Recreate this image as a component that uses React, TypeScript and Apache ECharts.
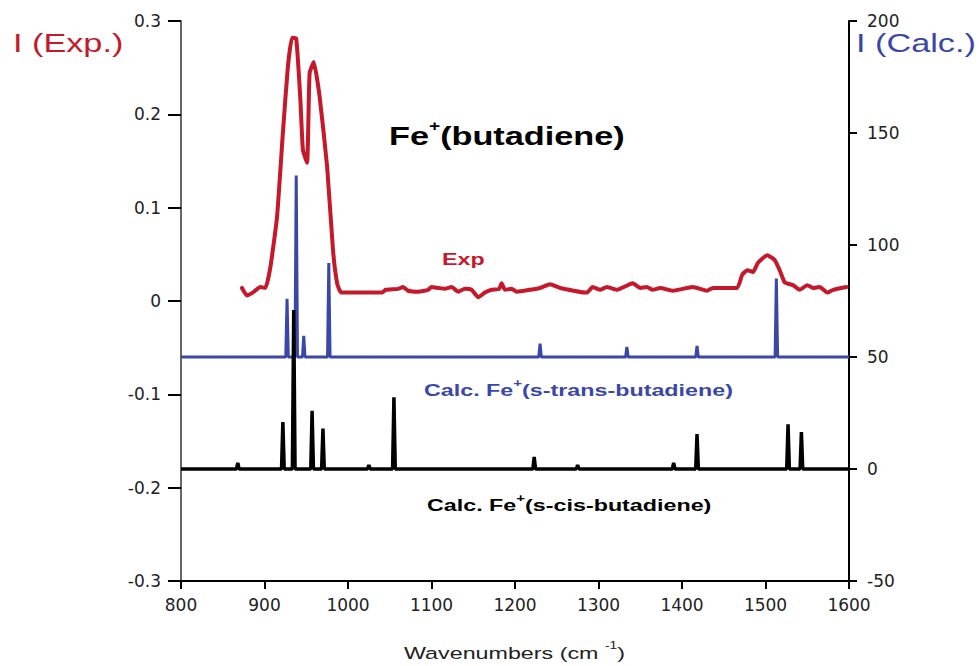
import React, { useEffect, useRef } from 'react';
import * as echarts from 'echarts';

// Experimental IR spectrum (left axis)
const expWavenumbers = [
  873, 879, 886, 895, 901, 907, 915, 922, 928, 933, 938, 943, 946, 951, 954, 959, 966, 975, 982, 987, 992,
  1041, 1045, 1060, 1066, 1072, 1084, 1096, 1100, 1108, 1116, 1124, 1132, 1140, 1148, 1156, 1164, 1172, 1181,
  1184, 1188, 1196, 1202, 1230, 1242, 1254, 1286, 1293, 1302, 1310, 1322, 1341, 1350, 1358, 1365, 1374, 1389,
  1413, 1430, 1437, 1466, 1472, 1478, 1485, 1491, 1502, 1511, 1517, 1523, 1533, 1541, 1550, 1557, 1565, 1574,
  1581, 1597,
];
const expIntensities = [
  0.014, 0.006, 0.009, 0.015, 0.014, 0.036, 0.09, 0.18, 0.251, 0.282, 0.281, 0.215, 0.162, 0.148, 0.244, 0.256,
  0.219, 0.144, 0.055, 0.019, 0.009,
  0.009, 0.012, 0.013, 0.015, 0.011, 0.01, 0.012, 0.015, 0.014, 0.013, 0.015, 0.01, 0.013, 0.012, 0.004, 0.009,
  0.012, 0.013, 0.019, 0.012, 0.013, 0.01, 0.014, 0.018, 0.014, 0.009, 0.015, 0.012, 0.015, 0.012, 0.019, 0.014,
  0.015, 0.012, 0.014, 0.011, 0.015, 0.011, 0.014, 0.014, 0.028, 0.033, 0.031, 0.041, 0.049, 0.044, 0.033, 0.02,
  0.017, 0.012, 0.017, 0.014, 0.015, 0.009, 0.012, 0.015,
];

// Calculated s-trans spectrum (right axis, drawn with an offset of 50)
const transPositions = [927, 938, 947, 977, 1230, 1334, 1418, 1513];
const transIntensities = [26, 81, 9.5, 42, 6, 4.5, 5, 35];
const transOffset = 50;

// Calculated s-cis spectrum (right axis, no offset)
const cisPositions = [868, 922, 935, 957, 970, 1025, 1055, 1223, 1275, 1390, 1418, 1527, 1543];
const cisIntensities = [2.7, 21, 71, 26, 18, 1.8, 32, 5.4, 1.8, 2.7, 15.6, 20, 16.5];
const cisOffset = 0;

const RED = '#c5182b';
const BLUE = '#3a47a8';
const STRETCH = 1.37;
const SANS = 'Liberation Sans, Arial, sans-serif';

function stickSpectrum(pos: number[], ints: number[], base: number, hw: number) {
  const pts: number[][] = [[800, base]];
  pos.forEach((p, i) => {
    pts.push([p - hw, base], [p, base + ints[i]], [p + hw, base]);
  });
  pts.push([1600, base]);
  return pts;
}

function supText(
  parts: [string, string, string],
  x: number,
  y: number,
  size: number,
  supSize: number,
  color: string,
  bold: boolean,
) {
  return {
    type: 'text',
    x,
    y,
    scaleX: STRETCH,
    z: 10,
    style: {
      text: `{m|${parts[0]}}{s|${parts[1]}}{m|${parts[2]}}`,
      textVerticalAlign: 'middle',
      verticalAlign: 'middle',
      rich: {
        m: {
          fontSize: size,
          fontFamily: SANS,
          fontWeight: bold ? 'bold' : 'normal',
          fill: color,
          lineHeight: size * 1.2,
          verticalAlign: 'bottom',
        },
        s: {
          fontSize: supSize,
          fontFamily: SANS,
          fontWeight: bold ? 'bold' : 'normal',
          fill: color,
          lineHeight: supSize,
          verticalAlign: 'top',
        },
      },
    },
  };
}

function plainText(text: string, x: number, y: number, size: number, color: string, bold: boolean) {
  return {
    type: 'text',
    x,
    y,
    scaleX: STRETCH,
    z: 10,
    style: {
      text,
      fontSize: size,
      fontFamily: SANS,
      fontWeight: bold ? 'bold' : 'normal',
      fill: color,
      textVerticalAlign: 'middle',
      verticalAlign: 'middle',
    },
  };
}

export default function App() {
  const ref = useRef<HTMLDivElement>(null);

  useEffect(() => {
    if (!ref.current) return;
    const chart = echarts.init(ref.current, undefined, { renderer: 'svg' });
    const tickLabel = { fontSize: 17, fontFamily: 'DejaVu Sans, sans-serif', color: '#222' };
    const option: any = {
      animation: false,
      backgroundColor: '#ffffff',
      grid: { left: 181, right: 130, top: 21, bottom: 85, containLabel: false },
      xAxis: {
        type: 'value',
        min: 800,
        max: 1600,
        interval: 100,
        axisLine: { show: true, onZero: false, lineStyle: { color: '#000', width: 2 } },
        axisTick: { show: true, length: 8, lineStyle: { color: '#000', width: 2 } },
        axisLabel: { ...tickLabel, margin: 15, formatter: (v: number) => String(v) },
        splitLine: { show: false },
      },
      yAxis: [
        {
          type: 'value',
          position: 'left',
          min: -0.3,
          max: 0.3,
          interval: 0.1,
          axisLine: { show: true, onZero: false, lineStyle: { color: '#333', width: 1.5 } },
          axisTick: { show: true, length: 13, lineStyle: { color: '#000', width: 2 } },
          axisLabel: {
            ...tickLabel,
            margin: 20,
            formatter: (v: number) => String(Math.round(v * 10) / 10),
          },
          splitLine: { show: false },
        },
        {
          type: 'value',
          position: 'right',
          min: -50,
          max: 200,
          interval: 50,
          axisLine: { show: true, onZero: false, lineStyle: { color: '#000', width: 2 } },
          axisTick: { show: true, length: 8, lineStyle: { color: '#000', width: 2 } },
          axisLabel: { ...tickLabel, margin: 18, formatter: (v: number) => String(v) },
          splitLine: { show: false },
        },
      ],
      series: [
        {
          name: 'Calc. s-trans',
          type: 'line',
          yAxisIndex: 1,
          data: stickSpectrum(transPositions, transIntensities, transOffset, 1.5),
          showSymbol: false,
          lineStyle: { color: BLUE, width: 3 },
          silent: true,
          z: 2,
        },
        {
          name: 'Calc. s-cis',
          type: 'line',
          yAxisIndex: 1,
          data: stickSpectrum(cisPositions, cisIntensities, cisOffset, 1.6),
          showSymbol: false,
          lineStyle: { color: '#000', width: 3.5 },
          silent: true,
          z: 3,
        },
        {
          name: 'Exp',
          type: 'line',
          yAxisIndex: 0,
          data: expWavenumbers.map((x, i) => [x, expIntensities[i]]),
          showSymbol: false,
          smooth: 0.15,
          lineStyle: { color: RED, width: 4, join: 'round', cap: 'round' },
          silent: true,
          z: 4,
        },
      ],
      graphic: [
        plainText('I (Exp.)', 13, 43, 25, RED, false),
        plainText('I (Calc.)', 856, 43, 25, BLUE, false),
        supText(['Fe', '+', '(butadiene)'], 389, 134, 25, 14, '#000', true),
        plainText('Exp', 442, 259, 17, RED, true),
        supText(['Calc. Fe', '+', '(s-trans-butadiene)'], 424, 388, 17, 11, BLUE, true),
        supText(['Calc. Fe', '+', '(s-cis-butadiene)'], 427, 503, 17, 11, '#000', true),
        supText(['Wavenumbers (cm ', '-1', ')'], 404, 651, 17, 10, '#222', false),
      ],
    };
    chart.setOption(option);
    return () => chart.dispose();
  }, []);

  return (
    <div
      ref={ref}
      style={{ position: 'absolute', left: 0, top: 0, width: 979, height: 666, background: '#fff' }}
    />
  );
}
